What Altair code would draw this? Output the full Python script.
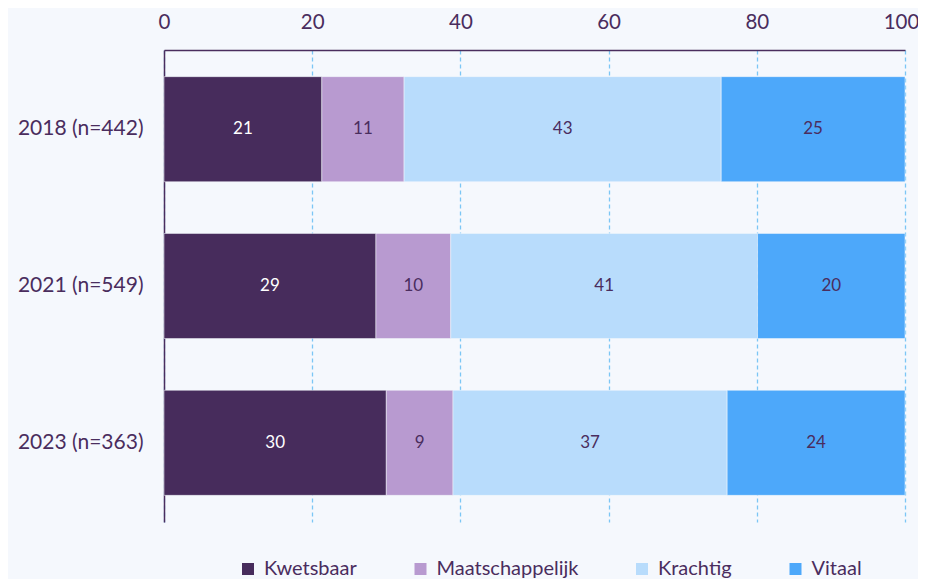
import altair as alt
import pandas as pd

years = ["2018 (n=442)", "2021 (n=549)", "2023 (n=363)"]
categories = ["Kwetsbaar", "Maatschappelijk", "Krachtig", "Vitaal"]
colors = ["#472c5c", "#b89ad0", "#b8dcfc", "#4da8fa"]
label_colors = ["#ffffff", "#4a2d5e", "#4a2d5e", "#4a2d5e"]
values = {
    "2018 (n=442)": [21.3, 11.1, 42.8, 24.8],
    "2021 (n=549)": [28.6, 10.1, 41.4, 19.9],
    "2023 (n=363)": [30.0, 9.0, 37.0, 24.0],
}
labels = {
    "2018 (n=442)": ["21", "11", "43", "25"],
    "2021 (n=549)": ["29", "10", "41", "20"],
    "2023 (n=363)": ["30", "9", "37", "24"],
}

rows = []
for y in years:
    for i, c in enumerate(categories):
        rows.append({"year": y, "cat": c, "order": i, "value": values[y][i],
                     "label": labels[y][i], "lcolor": label_colors[i]})
df = pd.DataFrame(rows)

TXT = "#4a2d5e"
FONT = "Lato"

base = alt.Chart(df)

bars = base.mark_bar(stroke="#f5f8fd", strokeWidth=0.5).encode(
    y=alt.Y("year:N", sort=years, title=None,
            scale=alt.Scale(paddingInner=0.33, paddingOuter=0.17),
            axis=alt.Axis(ticks=False, labelPadding=21, labelFontSize=21,
                          labelColor=TXT, labelFont=FONT, domainColor=TXT,
                          domainWidth=1.5)),
    x=alt.X("value:Q", stack="zero", title=None,
            scale=alt.Scale(domain=[0, 100], nice=False),
            axis=alt.Axis(orient="top", values=[0, 20, 40, 60, 80, 100],
                          ticks=False, labelPadding=18, labelFontSize=20.5,
                          labelFlush=False, labelOverlap=False,
                          labelOffset=alt.expr("datum.value == 100 ? -4 : 0"),
                          labelColor=TXT, labelFont=FONT, domainColor=TXT,
                          domainWidth=1.5, grid=True, gridColor="#7cc6f5",
                          gridDash=[4, 3], gridWidth=1.3)),
    color=alt.Color("cat:N", sort=categories, title=None,
                    scale=alt.Scale(domain=categories, range=colors),
                    legend=alt.Legend(orient="none", direction="horizontal",
                                      legendX=74, legendY=509,
                                      symbolType="square", symbolSize=144,
                                      symbolStrokeWidth=0,
                                      labelFontSize=20, labelColor=TXT,
                                      labelFont=FONT, labelOffset=6,
                                      columnPadding=53.5)),
    order=alt.Order("order:Q"),
)

text = base.transform_stack(
    stack="value", groupby=["year"], sort=[alt.SortField("order")],
    as_=["x0", "x1"]
).transform_calculate(
    mid="(datum.x0 + datum.x1) / 2"
).mark_text(fontSize=17, font=FONT).encode(
    y=alt.Y("year:N", sort=years),
    x=alt.X("mid:Q"),
    text="label:N",
    color=alt.Color("lcolor:N", scale=None),
)

chart = alt.layer(bars, text).properties(
    width=741, height=472,
    autosize=alt.AutoSizeParams(type="none"),
    padding={"left": 156, "top": 42, "right": 13, "bottom": 57},
    background="#f5f8fd",
).configure_view(stroke=None)

chart.save("out.html", embed_options={"renderer": "svg", "actions": False})
